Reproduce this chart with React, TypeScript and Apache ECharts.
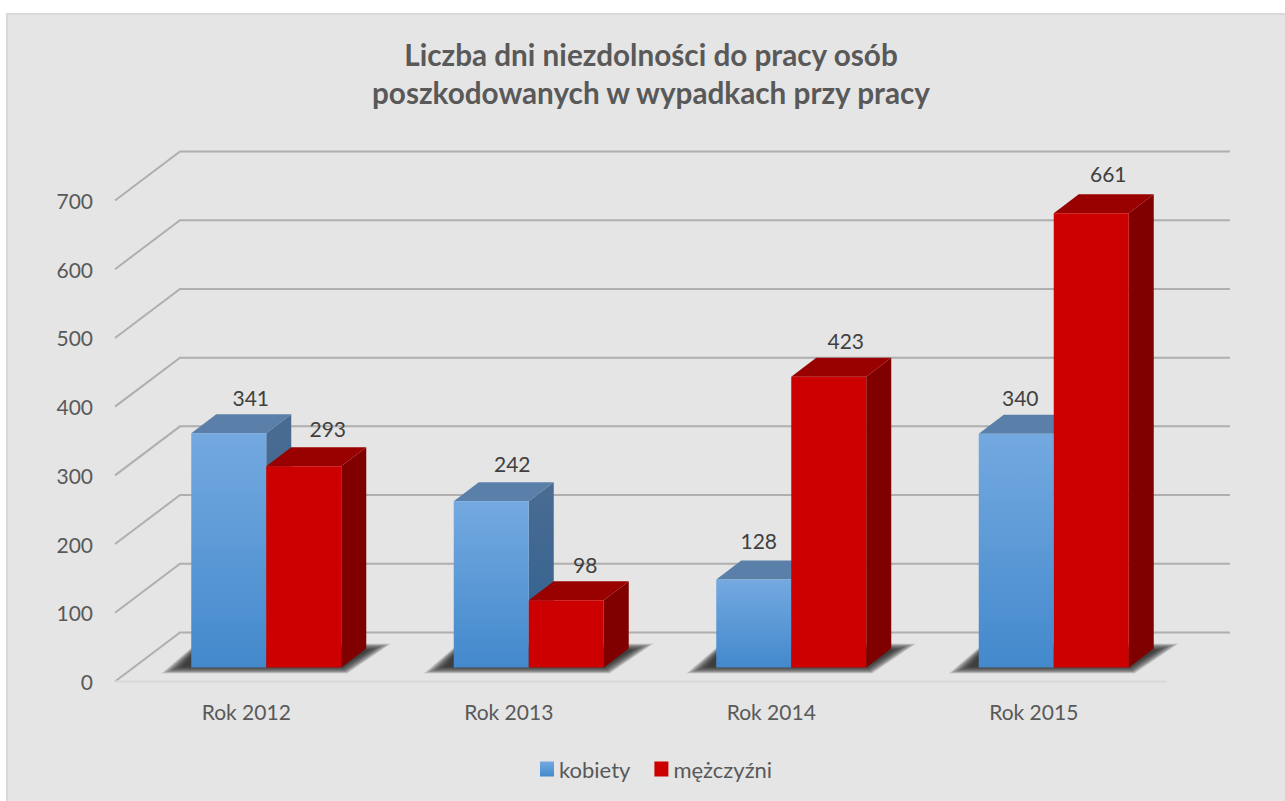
import React, { useEffect, useRef } from "react";
import * as echarts from "echarts";

const categories = ["Rok 2012", "Rok 2013", "Rok 2014", "Rok 2015"];
const kobiety = [341, 242, 128, 340];
const mezczyzni = [293, 98, 423, 661];
const axisTicks = [0, 100, 200, 300, 400, 500, 600, 700];

const FONT = "Lato, Carlito, 'Open Sans', sans-serif";
const BAR_W = 75;
const DEPTH_X = 25;
const DEPTH_Y = 19;
const PLANE_X = 20;
const PLANE_Y = 14;
const WALL_X = 65;
const WALL_Y = 49;
const SHADOW_LAYERS = 16;
const labelNudgeK = [22, 21, 5, 4];
const labelNudgeM = [24, 19, 17, 17];
const labelLiftK = [36, 38, 39, 36];
const labelLiftM = [38, 36, 36, 40];

const grad = (stops: [number, string][]) =>
  new echarts.graphic.LinearGradient(0, 0, 0, 1, stops.map(([offset, color]) => ({ offset, color })));

function barRenderer(
  side: number,
  front: () => any,
  top: string,
  sideFill: () => any,
  nudge: number[],
  lift: number[]
) {
  return (params: any, api: any) => {
    const i = api.value(0);
    const v = api.value(1);
    const c = api.coord([i, v]);
    const base = api.coord([i, 0]);
    const split = c[0] + PLANE_X;
    const x0 = side < 0 ? split - BAR_W : split;
    const x1 = x0 + BAR_W;
    const yT = c[1] - PLANE_Y;
    const yB = base[1] - PLANE_Y;
    return {
      type: "group",
      children: [
        {
          type: "polygon",
          shape: { points: [[x1, yT], [x1 + DEPTH_X, yT - DEPTH_Y], [x1 + DEPTH_X, yB - DEPTH_Y], [x1, yB]] },
          style: { fill: sideFill() },
        },
        {
          type: "polygon",
          shape: { points: [[x0, yT], [x0 + DEPTH_X, yT - DEPTH_Y], [x1 + DEPTH_X, yT - DEPTH_Y], [x1, yT]] },
          style: { fill: top },
        },
        {
          type: "rect",
          shape: { x: x0, y: yT, width: BAR_W, height: yB - yT },
          style: { fill: front() },
        },
        {
          type: "text",
          z2: 50,
          style: {
            text: String(v),
            x: x0 + BAR_W / 2 + nudge[i],
            y: yT - lift[i],
            align: "center",
            verticalAlign: "middle",
            fill: "#404040",
            font: `21px ${FONT}`,
          },
        },
      ],
    };
  };
}

export default function App() {
  const ref = useRef<HTMLDivElement>(null);
  useEffect(() => {
    document.body.style.margin = "0";
    const chart = echarts.init(ref.current!, undefined, { renderer: "svg" });
    const blueFront = () => grad([[0, "#74A9E0"], [1, "#4389CC"]]);
    const blueSide = () => grad([[0, "#4A6C92"], [1, "#2F6090"]]);
    const redFront = () => "#CC0000";
    const redSide = () => "#800000";

    chart.setOption({
      animation: false,
      backgroundColor: "#ffffff",
      title: {
        text: "Liczba dni niezdolności do pracy osób\nposzkodowanych w wypadkach przy pracy",
        left: 646,
        top: 30,
        textAlign: "center",
        textStyle: { fontFamily: FONT, fontWeight: "bold", fontSize: 29.7, lineHeight: 38, color: "#595959" },
      },
      graphic: [
        {
          type: "rect",
          z: -10,
          shape: { x: 7, y: 14, width: 1300, height: 820 },
          style: { fill: "#E5E5E5", stroke: "#D9D9D9", lineWidth: 2 },
        },
      ],
      legend: {
        left: 535,
        top: 753,
        itemWidth: 14,
        itemHeight: 15,
        itemGap: 24,
        textStyle: { fontFamily: FONT, fontSize: 22, color: "#595959" },
        data: [
          { name: "kobiety", icon: "rect", itemStyle: { color: blueFront() } },
          { name: "mężczyźni", icon: "rect", itemStyle: { color: "#CC0000" } },
        ],
      },
      grid: { left: 115, top: 200.5, width: 1050, height: 481 },
      xAxis: {
        type: "category",
        data: categories,
        axisLine: { show: false },
        axisTick: { show: false },
        axisLabel: { fontFamily: FONT, fontSize: 21, color: "#595959", margin: 19 },
      },
      yAxis: {
        type: "value",
        min: 0,
        max: 700,
        interval: 100,
        splitLine: { show: false },
        axisLine: { show: false },
        axisTick: { show: false },
        axisLabel: { fontFamily: FONT, fontSize: 21, color: "#595959", margin: 22 },
      },
      series: [
        {
          type: "custom",
          name: "walls",
          z: 1,
          silent: true,
          data: axisTicks.map((t) => [0, t]),
          encode: { x: 0, y: 1 },
          renderItem: (params: any, api: any) => {
            const y = api.coord([0, api.value(1)])[1];
            const x = params.coordSys.x;
            const right = x + params.coordSys.width + WALL_X;
            const children: any[] = [
              {
                type: "polyline",
                shape: { points: [[x, y], [x + WALL_X, y - WALL_Y], [right, y - WALL_Y]] },
                style: { stroke: "#B0AEAE", lineWidth: 2, fill: "none" },
              },
            ];
            if (api.value(1) === 0) {
              children.push({
                type: "line",
                shape: { x1: x, y1: y, x2: x + params.coordSys.width + 2, y2: y },
                style: { stroke: "#D9D9D9", lineWidth: 2 },
              });
            }
            return { type: "group", children };
          },
        },
        {
          type: "custom",
          name: "floorShadow",
          z: 2,
          silent: true,
          data: categories.map((_, i) => [i, 0]),
          encode: { x: 0, y: 1 },
          renderItem: (_p: any, api: any) => {
            const c = api.coord([api.value(0), 0]);
            const L = c[0] + PLANE_X - BAR_W;
            const R = c[0] + PLANE_X + BAR_W;
            const B = c[1] - PLANE_Y;
            const children: any[] = [];
            for (let k = 0; k < SHADOW_LAYERS; k++) {
              const t = k / (SHADOW_LAYERS - 1);
              const mix = (outer: number, inner: number) => outer + (inner - outer) * t;
              children.push({
                type: "polygon",
                shape: {
                  points: [
                    [L + mix(-30, -8), B + mix(6, -1)],
                    [R + mix(6, 0), B + mix(6, -1)],
                    [R + mix(50, 26), B + mix(-24, -17)],
                    [L + 5, B + mix(-24, -17)],
                  ],
                },
                style: { fill: "#222222", opacity: 0.11 },
              });
            }
            return { type: "group", children };
          },
        },
        {
          type: "custom",
          name: "kobiety",
          z: 3,
          itemStyle: { color: "#5B9BD5" },
          data: kobiety.map((v, i) => [i, v]),
          encode: { x: 0, y: 1 },
          renderItem: barRenderer(-1, blueFront, "#5A7FA8", blueSide, labelNudgeK, labelLiftK),
        },
        {
          type: "custom",
          name: "mężczyźni",
          z: 4,
          itemStyle: { color: "#CC0000" },
          data: mezczyzni.map((v, i) => [i, v]),
          encode: { x: 0, y: 1 },
          renderItem: barRenderer(1, redFront, "#990000", redSide, labelNudgeM, labelLiftM),
        },
      ],
    });
    return () => chart.dispose();
  }, []);
  return <div ref={ref} style={{ position: "absolute", left: 0, top: 0, width: 1285, height: 801 }} />;
}
